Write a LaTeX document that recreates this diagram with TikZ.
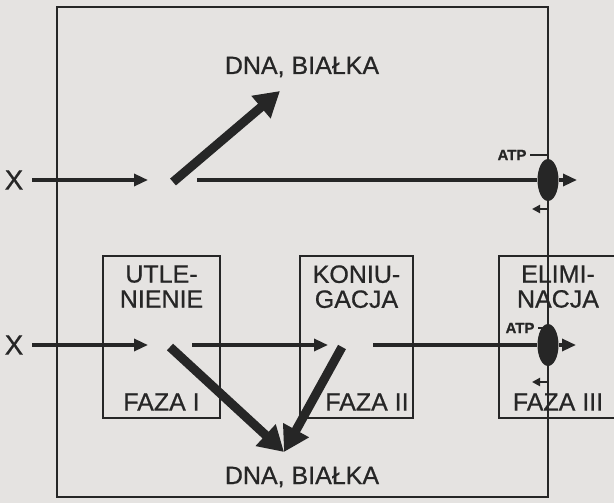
\documentclass[tikz,border=0pt]{standalone}
\usepackage{fontspec}
\setmainfont[FakeBold=0.7]{Liberation Sans}
\usetikzlibrary{arrows.meta,shapes.geometric,positioning}

\definecolor{paper}{RGB}{229,227,225}
\definecolor{ink}{RGB}{38,38,38}

\tikzset{
  phase/.style={draw=ink,line width=1.7pt,minimum height=162pt,minimum width=#1},
  phase/.default=116pt,
  pump/.style={ellipse,fill=ink,minimum width=21pt,minimum height=42pt},
  flow/.style={draw=ink,line width=3.3pt,-{Triangle[length=14pt,width=12pt]}},
  bigflow/.style={draw=ink,line width=9pt,-{Triangle[length=25pt,width=28pt]}},
  tap/.style={draw=ink,line width=2.2pt},
  txt/.style={font=\fontsize{25}{25}\selectfont,align=center},
  atpfont/.style={font=\fontsize{15}{15}\selectfont\bfseries,outer xsep=4pt},
  xmark/.style={font=\fontsize{28}{28}\selectfont,outer xsep=9pt},
}

\begin{document}
\begin{tikzpicture}[x=1pt,y=-1pt,every node/.style={text=ink,inner sep=0pt}]
	\useasboundingbox (0,0) rectangle (614,503);
	\fill[paper] (0,0) rectangle (614,503);
	\clip (0,0) rectangle (614,503);

	% cell and the three phases
	\node[draw=ink,line width=1.7pt,minimum width=491pt,minimum height=490pt] (cell) at (302.5,252) {};
	\node[phase=117pt] (utl) at (161.5,337) {};
	\node[phase=113pt] (kon) at (356.5,337) {};
	\node[phase=118pt] (eli) at (558,337) {};
	\node[txt,below=10pt of utl.north] (utlname) {UTLE-\\NIENIE};
	\node[txt,below=10pt of kon.north] (konname) {KONIU-\\GACJA};
	\node[txt,below=10pt of eli.north] (eliname) {ELIMI-\\NACJA};
	\node[txt,above=8pt of utl.south] (f1) {FAZA I};
	\node[txt,above left=8pt and 5pt of kon.south east] (f2) {FAZA II};
	\node[txt,above=8pt of eli.south] (f3) {FAZA III};

	% upper pathway
	\node[xmark] (x1) at (14,180) {X};
	\node[txt] (dna1) at (302,67) {DNA, BIAŁKA};
	\node[pump] (pump1) at (548,180) {};
	\node[atpfont] (atp1) at (512,155) {ATP};
	\coordinate (c1) at (148,180);
	\coordinate (s1) at (173,182);
	\coordinate (t1) at (280,91);
	\coordinate (r1) at (197,180);
	\coordinate (o1) at (577,180);
	\coordinate (b1) at (532,209);
	\draw[flow] (x1) -- (c1);
	\draw[bigflow] (s1) -- (t1);
	\draw[ink,line width=3.3pt] (r1) -- (pump1);
	\draw[flow] (pump1) -- (o1);
	\draw[tap] (atp1) -| (pump1.north);
	\draw[tap,-{Triangle[length=8pt,width=8pt]}] (pump1.south) |- (b1);

	% lower pathway
	\node[xmark] (x2) at (14,345) {X};
	\node[txt] (dna2) at (302,477) {DNA, BIAŁKA};
	\node[pump] (pump2) at (548,345) {};
	\node[atpfont] (atp2) at (520,328) {ATP};
	\coordinate (c2) at (148,345);
	\coordinate (s2) at (170,347);
	\coordinate (m2) at (192,345);
	\coordinate (c3) at (328,345);
	\coordinate (s3) at (342,347);
	\coordinate (t2) at (284,452);
	\coordinate (r2) at (373,345);
	\coordinate (o2) at (576,345);
	\coordinate (b2) at (532,382);
	\draw[flow] (x2) -- (c2);
	\draw[bigflow] (s2) -- (t2);
	\draw[flow] (m2) -- (c3);
	\draw[bigflow] (s3) -- (t2);
	\draw[ink,line width=3.3pt] (r2) -- (pump2);
	\draw[flow] (pump2) -- (o2);
	\draw[tap] (atp2) -| (pump2.north);
	\draw[tap,-{Triangle[length=8pt,width=8pt]}] (pump2.south) |- (b2);
\end{tikzpicture}
\end{document}
